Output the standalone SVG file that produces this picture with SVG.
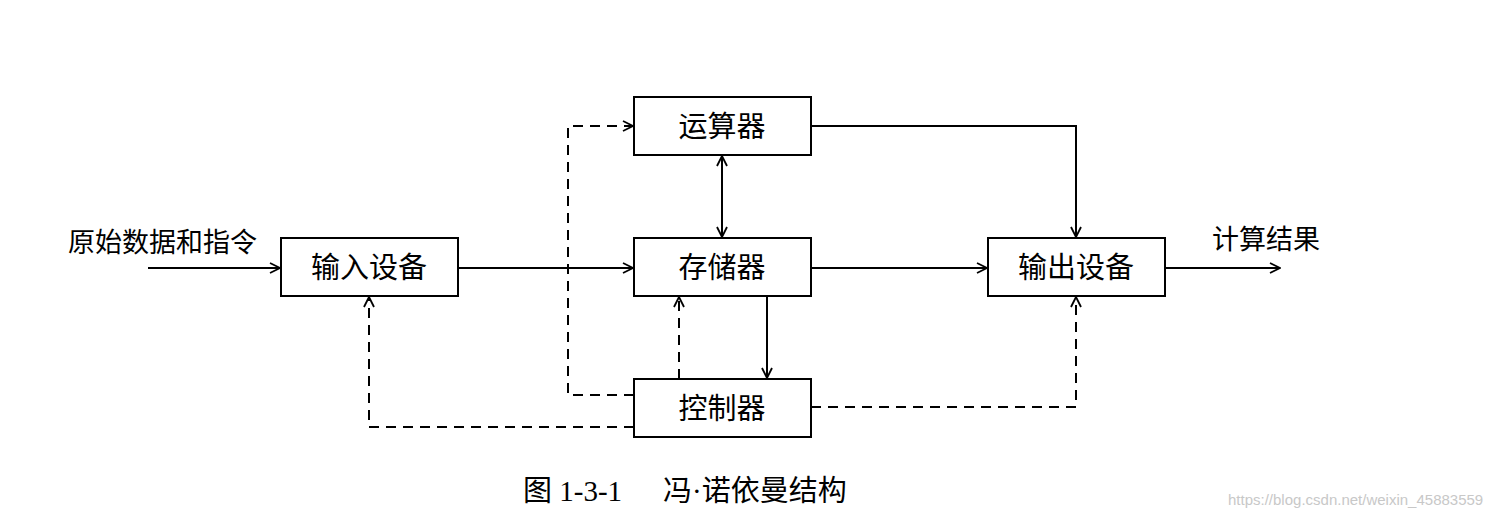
<svg xmlns="http://www.w3.org/2000/svg" width="1509" height="521" viewBox="0 0 1509 521">
<style>
.box{fill:#fff;stroke:#000;stroke-width:2}
.t{font-family:"Liberation Serif","Noto Sans CJK SC",serif;font-size:29px;fill:#000}
.s{font-size:27px}
.c{fill:none;stroke:#000;stroke-width:2}
.d{stroke-dasharray:10,7}
</style>
<defs>
<marker id="a" viewBox="0 0 12 12" refX="11" refY="6" markerWidth="12" markerHeight="12" markerUnits="userSpaceOnUse" orient="auto-start-reverse">
<path d="M1,1 L11,6 L1,11" fill="none" stroke="#000" stroke-width="1.8"/>
</marker>
</defs>
<rect width="1509" height="521" fill="#fff"/>
<g id="connectors">
<path class="c" d="M148,268 H280" marker-end="url(#a)"/>
<path class="c" d="M458,268 H633" marker-end="url(#a)"/>
<path class="c" d="M811,268 H987" marker-end="url(#a)"/>
<path class="c" d="M1165,268 H1280" marker-end="url(#a)"/>
<path class="c" d="M811,126 H1076 V237" marker-end="url(#a)"/>
<path class="c" d="M722,156 V237" marker-start="url(#a)" marker-end="url(#a)"/>
<path class="c" d="M767,296 V378" marker-end="url(#a)"/>
<path class="c d" d="M679,379 V297" marker-end="url(#a)"/>
<path class="c d" d="M634,395 H568 V126 H633" marker-end="url(#a)"/>
<path class="c d" d="M634,427 H369 V297" marker-end="url(#a)"/>
<path class="c d" d="M811,407 H1076 V297" marker-end="url(#a)"/>
</g>
<g id="alu"><rect class="box" x="634" y="97" width="177" height="58"/><text class="t" x="722" y="137" text-anchor="middle">运算器</text></g>
<g id="input"><rect class="box" x="281" y="238" width="177" height="58"/><text class="t" x="369" y="278" text-anchor="middle">输入设备</text></g>
<g id="memory"><rect class="box" x="634" y="238" width="177" height="58"/><text class="t" x="722" y="278" text-anchor="middle">存储器</text></g>
<g id="output"><rect class="box" x="988" y="238" width="177" height="58"/><text class="t" x="1076" y="278" text-anchor="middle">输出设备</text></g>
<g id="control"><rect class="box" x="634" y="379" width="177" height="58"/><text class="t" x="722" y="419" text-anchor="middle">控制器</text></g>
<text class="t s" x="68" y="252">原始数据和指令</text>
<text class="t s" x="1212" y="249">计算结果</text>
<text class="t" x="523" y="501">图 1-3-1</text>
<text class="t" x="663" y="501">冯·诺依曼结构</text>
<text x="1228" y="505" style="font-family:'Liberation Sans',sans-serif;font-size:15px;fill:#c8c8c8">https://blog.csdn.net/weixin_45883559</text>
</svg>
